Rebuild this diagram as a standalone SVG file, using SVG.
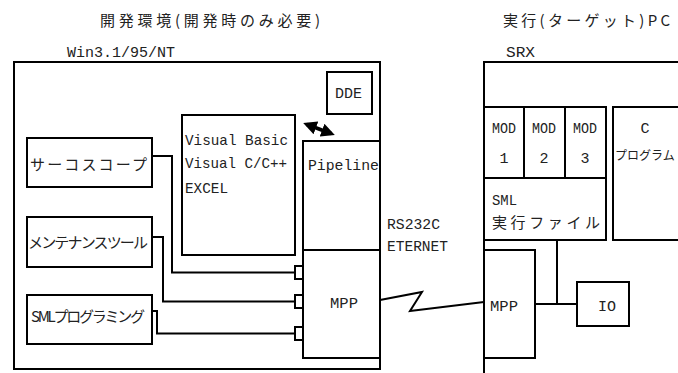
<svg xmlns="http://www.w3.org/2000/svg" width="678" height="373" viewBox="0 0 678 373">
<style>
.b{fill:#fff;stroke:#000;stroke-width:2}
.l{fill:none;stroke:#000;stroke-width:2}
.jp{font-family:"Noto Sans CJK JP","Noto Sans",sans-serif;font-size:15px;fill:#222}
.en{font-family:"Liberation Mono","DejaVu Sans Mono",monospace;font-size:15px;fill:#222}
.c{text-anchor:middle}
</style>
<defs>
<marker id="ah" viewBox="0 0 10 10" refX="7" refY="5" markerWidth="3.4" markerHeight="3.4" orient="auto-start-reverse" markerUnits="strokeWidth">
<path d="M0,0 L10,5 L0,10 Z" fill="#000"/>
</marker>
</defs>
<text class="jp" x="100" y="26" textLength="220">開発環境(開発時のみ必要)</text>
<text class="en" x="67" y="57" textLength="108" lengthAdjust="spacingAndGlyphs">Win3.1/95/NT</text>
<text class="jp" x="503" y="26" textLength="167">実行(ターゲット)PC</text>
<text class="en" x="506" y="57" textLength="29" lengthAdjust="spacingAndGlyphs">SRX</text>

<g id="devenv"><rect class="b" x="14" y="62" width="366" height="307"/></g>
<g id="dde"><rect class="b" x="327" y="72" width="45" height="42"/><text class="en" x="335" y="98" textLength="27" lengthAdjust="spacingAndGlyphs">DDE</text></g>
<g id="visual"><rect class="b" x="182" y="115" width="113" height="140"/>
<text class="en" x="185" y="145" textLength="103" lengthAdjust="spacingAndGlyphs">Visual Basic</text>
<text class="en" x="185" y="168" textLength="102" lengthAdjust="spacingAndGlyphs">Visual C/C++</text>
<text class="en" x="185" y="193" textLength="43" lengthAdjust="spacingAndGlyphs">EXCEL</text></g>
<g id="pipeline"><rect class="b" x="303" y="141" width="77" height="109"/><text class="en" x="308" y="170" textLength="71" lengthAdjust="spacingAndGlyphs">Pipeline</text></g>
<g id="mppL"><rect class="b" x="303" y="250" width="77" height="108"/><text class="en" x="330" y="308" textLength="28" lengthAdjust="spacingAndGlyphs">MPP</text>
<rect class="b" x="295" y="266" width="8" height="13"/><rect class="b" x="295" y="295" width="8" height="13"/><rect class="b" x="295" y="327" width="8" height="13"/></g>
<g id="servo"><rect class="b" x="27" y="138" width="125" height="49"/><text class="jp" x="30" y="170" textLength="117">サーコスコープ</text></g>
<g id="maint"><rect class="b" x="27" y="217" width="125" height="50"/><text class="jp" x="28" y="248" textLength="120">メンテナンスツール</text></g>
<g id="smlprog"><rect class="b" x="27" y="295" width="125" height="49"/><text class="jp" x="31" y="322" textLength="114">SMLプログラミング</text></g>

<g id="srx"><rect class="b" x="484" y="62" width="230" height="340"/></g>
<g id="mod1"><rect class="b" x="484" y="107" width="40" height="71"/><text class="en c" x="504" y="133" textLength="24" lengthAdjust="spacingAndGlyphs">MOD</text><text class="en c" x="504" y="163">1</text></g>
<g id="mod2"><rect class="b" x="524" y="107" width="41" height="71"/><text class="en c" x="544" y="133" textLength="24" lengthAdjust="spacingAndGlyphs">MOD</text><text class="en c" x="544" y="163">2</text></g>
<g id="mod3"><rect class="b" x="565" y="107" width="41" height="71"/><text class="en c" x="585" y="133" textLength="24" lengthAdjust="spacingAndGlyphs">MOD</text><text class="en c" x="585" y="163">3</text></g>
<g id="cprog"><rect class="b" x="613" y="107" width="90" height="133"/><text class="en c" x="645" y="133">C</text><text class="jp" x="615" y="160" style="font-size:12px">プログラム</text></g>
<g id="smlexe"><rect class="b" x="484" y="178" width="122" height="62"/><text class="en" x="492" y="205" textLength="25" lengthAdjust="spacingAndGlyphs">SML</text><text class="jp" x="492" y="228" textLength="108">実行ファイル</text></g>
<g id="mppR"><rect class="b" x="484" y="250" width="51" height="108"/><text class="en" x="490" y="311" textLength="28" lengthAdjust="spacingAndGlyphs">MPP</text></g>
<g id="io"><rect class="b" x="577" y="282" width="52" height="44"/><text class="en c" x="607" y="311">IO</text></g>

<g id="connectors">
<path class="l" d="M152,156 H172 V272.5 H295"/>
<path class="l" d="M152,237 H163 V301.5 H295"/>
<path class="l" d="M152,311 H157 V333.5 H295"/>
<line x1="307" y1="124.5" x2="331" y2="133.5" stroke="#000" stroke-width="4" marker-start="url(#ah)" marker-end="url(#ah)"/>
<polyline class="l" points="380,300 422,292 410,311 484,302"/>
<path class="l" d="M557,240 V304"/>
<path class="l" d="M535,304 H577"/>
</g>
<text class="en" x="387" y="229" textLength="53" lengthAdjust="spacingAndGlyphs">RS232C</text>
<text class="en" x="387" y="251" textLength="61" lengthAdjust="spacingAndGlyphs">ETERNET</text>
</svg>
